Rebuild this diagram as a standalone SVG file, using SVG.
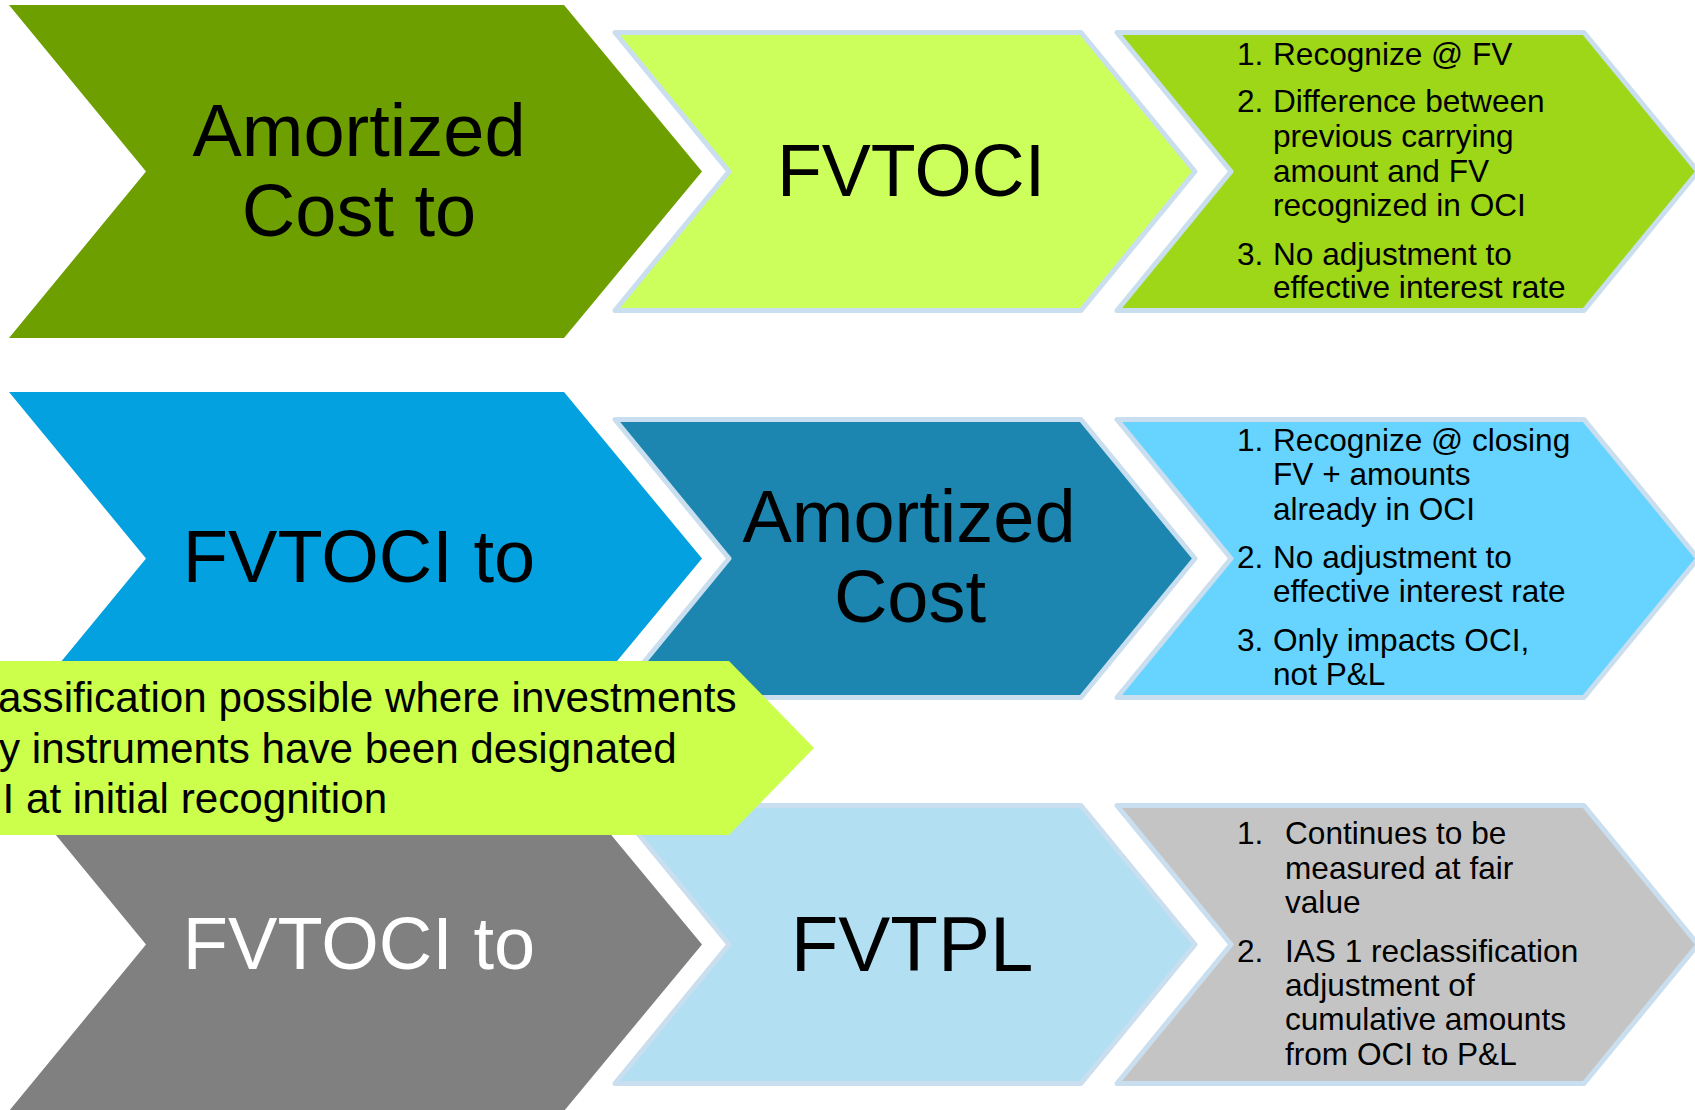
<svg xmlns="http://www.w3.org/2000/svg" width="1695" height="1110" viewBox="0 0 1695 1110">
<style>
.big{font-family:"Liberation Sans",Arial,sans-serif;font-size:74px;text-anchor:middle;fill:#000}
.sm{font-family:"Liberation Sans",Arial,sans-serif;font-size:31.6px;fill:#000}
.ban{font-family:"Liberation Sans",Arial,sans-serif;font-size:42.2px;fill:#000}
.bord{stroke:#C9DEEE;stroke-width:5;stroke-linejoin:round}
</style>
<rect width="1695" height="1110" fill="#fff"/>
<g id="connectors"></g>
<!-- Row 1 -->
<g id="a1">
<path d="M9,5 L564,5 L702,171.5 L564,338 L9,338 L146,171.5 Z" fill="#6E9F00"/>
<text class="big" x="359" y="156">Amortized</text>
<text class="big" x="359" y="236">Cost to</text>
</g>
<g id="b1">
<path class="bord" d="M615,32.5 L1081,32.5 L1195,171.5 L1081,310.5 L615,310.5 L729,171.5 Z" fill="#CCFF5C"/>
<text class="big" x="911" y="196" style="font-size:73.5px">FVTOCI</text>
</g>
<g id="c1">
<path class="bord" d="M1117,32.5 L1584,32.5 L1698,171.5 L1584,310.5 L1117,310.5 L1231,171.5 Z" fill="#9ED618"/>
<text class="sm"><tspan x="1237" y="65">1.</tspan><tspan x="1273" y="65">Recognize @ FV</tspan></text>
<text class="sm"><tspan x="1237" y="112">2.</tspan><tspan x="1273" y="112">Difference between</tspan><tspan x="1273" y="147">previous carrying</tspan><tspan x="1273" y="182">amount and FV</tspan><tspan x="1273" y="216">recognized in OCI</tspan></text>
<text class="sm"><tspan x="1237" y="265">3.</tspan><tspan x="1273" y="265">No adjustment to</tspan><tspan x="1273" y="298">effective interest rate</tspan></text>
</g>
<!-- Row 3 -->
<g id="a3">
<path d="M9,778 L564,778 L702,944.5 L564,1111 L9,1111 L146,944.5 Z" fill="#808080"/>
<text class="big" x="359" y="969" style="fill:#fff">FVTOCI to</text>
</g>
<g id="b3">
<path class="bord" d="M615,805.5 L1081,805.5 L1195,944.5 L1081,1083.5 L615,1083.5 L729,944.5 Z" fill="#B3DFF2"/>
<text class="big" x="912" y="971" style="font-size:78px">FVTPL</text>
</g>
<g id="c3">
<path class="bord" d="M1117,805.5 L1584,805.5 L1698,944.5 L1584,1083.5 L1117,1083.5 L1231,944.5 Z" fill="#C4C4C4"/>
<text class="sm"><tspan x="1237" y="844">1.</tspan><tspan x="1285" y="844">Continues to be</tspan><tspan x="1285" y="879">measured at fair</tspan><tspan x="1285" y="913">value</tspan></text>
<text class="sm"><tspan x="1237" y="962">2.</tspan><tspan x="1285" y="962">IAS 1 reclassification</tspan><tspan x="1285" y="996">adjustment of</tspan><tspan x="1285" y="1030">cumulative amounts</tspan><tspan x="1285" y="1065">from OCI to P&amp;L</tspan></text>
</g>
<!-- Row 2 -->
<g id="a2">
<path d="M9,392 L564,392 L702,558.5 L564,725 L9,725 L146,558.5 Z" fill="#03A1DF"/>
<text class="big" x="359" y="582">FVTOCI to</text>
</g>
<g id="b2">
<path class="bord" d="M615,419.5 L1081,419.5 L1195,558.5 L1081,697.5 L615,697.5 L729,558.5 Z" fill="#1C86B0"/>
<text class="big" x="909" y="542">Amortized</text>
<text class="big" x="910" y="622">Cost</text>
</g>
<g id="c2">
<path class="bord" d="M1117,419.5 L1584,419.5 L1698,558.5 L1584,697.5 L1117,697.5 L1231,558.5 Z" fill="#66D4FF"/>
<text class="sm"><tspan x="1237" y="451">1.</tspan><tspan x="1273" y="451">Recognize @ closing</tspan><tspan x="1273" y="485">FV + amounts</tspan><tspan x="1273" y="520">already in OCI</tspan></text>
<text class="sm"><tspan x="1237" y="568">2.</tspan><tspan x="1273" y="568">No adjustment to</tspan><tspan x="1273" y="602">effective interest rate</tspan></text>
<text class="sm"><tspan x="1237" y="651">3.</tspan><tspan x="1273" y="651">Only impacts OCI,</tspan><tspan x="1273" y="685">not P&amp;L</tspan></text>
</g>
<!-- Banner -->
<g id="banner">
<path d="M0,661 L729,661 L814,748 L729,835 L0,835 Z" fill="#CBFF4C"/>
<text class="ban" x="-2" y="712">assification possible where investments</text>
<text class="ban" x="-1" y="763">y instruments have been designated</text>
<text class="ban" x="2.5" y="813">I at initial recognition</text>
</g>
</svg>
